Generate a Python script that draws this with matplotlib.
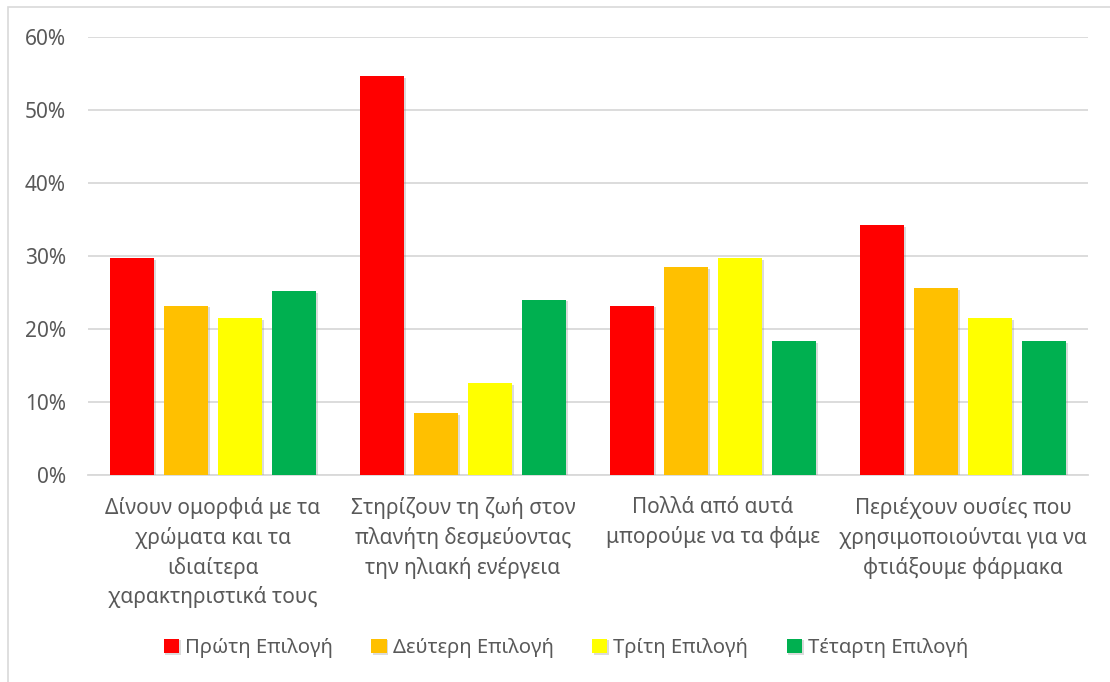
import numpy as np
import matplotlib.pyplot as plt
import matplotlib.patheffects as pe
from matplotlib.patches import Rectangle
from matplotlib.ticker import PercentFormatter

plt.rcParams['font.family'] = ['Noto Sans', 'DejaVu Sans']

# survey answers: share of pupils per choice
categories = [
    'Δίνουν ομορφιά με τα\nχρώματα και τα\nιδιαίτερα\nχαρακτηριστικά τους',
    'Στηρίζουν τη ζωή στον\nπλανήτη δεσμεύοντας\nτην ηλιακή ενέργεια',
    'Πολλά από αυτά\nμπορούμε να τα φάμε',
    'Περιέχουν ουσίες που\nχρησιμοποιούνται για να\nφτιάξουμε φάρμακα',
]
series_names = ['Πρώτη Επιλογή', 'Δεύτερη Επιλογή', 'Τρίτη Επιλογή', 'Τέταρτη Επιλογή']
first_choice = [29.7, 54.6, 23.2, 34.2]
second_choice = [23.2, 8.5, 28.5, 25.6]
third_choice = [21.5, 12.6, 29.7, 21.5]
fourth_choice = [25.2, 24.0, 18.3, 18.3]
colors = ['#FF0000', '#FFC000', '#FFFF00', '#00B050']

text_color = '#595959'
grid_color = '#D9D9D9'

fig = plt.figure(figsize=(11.1, 6.82), dpi=100)
ax = fig.add_axes([88 / 1110, 1 - 475 / 682, 1000 / 1110, 438 / 682])

# chart area frame (top and left edges show)
fig.patches.append(Rectangle((8 / 1110, -0.05), 1.2, 1 - 7 / 682 + 0.05,
                             transform=fig.transFigure, fill=False,
                             edgecolor='#D9D9D9', linewidth=1.2, zorder=0))

x = np.arange(len(categories))
step = 54 / 250
width = 44 / 250
all_series = [first_choice, second_choice, third_choice, fourth_choice]
shadow = [pe.SimplePatchShadow(offset=(1.2, -1.2), shadow_rgbFace='#9a9a9a', alpha=0.35),
          pe.Normal()]
for i, (vals, name, col) in enumerate(zip(all_series, series_names, colors)):
    bars = ax.bar(x + (i - 1.5) * step, vals, width, color=col, label=name, zorder=3)
    for b in bars:
        b.set_path_effects(shadow)

ax.set_xlim(-0.5, len(categories) - 0.5)
ax.set_ylim(0, 60)
ax.set_yticks(np.arange(0, 61, 10))
ax.yaxis.set_major_formatter(PercentFormatter(decimals=0))
ax.grid(axis='y', color=grid_color, linewidth=1.3, zorder=0)
ax.set_axisbelow(True)

for s in ['top', 'right', 'left']:
    ax.spines[s].set_visible(False)
ax.spines['bottom'].set_color(grid_color)
ax.spines['bottom'].set_linewidth(1.3)

ax.set_xticks(x)
ax.set_xticklabels(categories, linespacing=1.45, va='top')
ax.tick_params(axis='x', length=0, pad=16, labelsize=15, labelcolor=text_color)
ax.tick_params(axis='y', length=0, pad=16, labelsize=15, labelcolor=text_color)

leg = ax.legend(loc='center', bbox_to_anchor=(566 / 1110, 1 - 648 / 682),
                bbox_transform=fig.transFigure, ncol=4, frameon=False,
                fontsize=14.6, handlelength=0.75, handleheight=0.75,
                handletextpad=0.3, columnspacing=1.9, labelcolor=text_color)

fig.savefig('out.png', dpi=100)
